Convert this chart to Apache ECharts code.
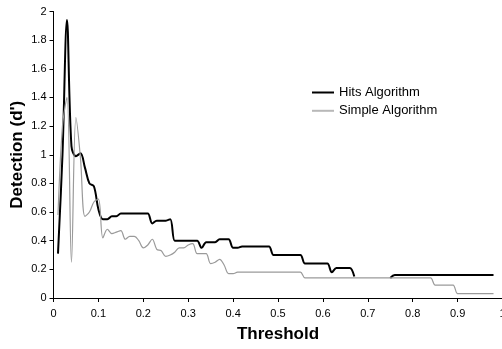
<!DOCTYPE html>
<html>
<head>
<meta charset="utf-8">
<script src="https://cdn.jsdelivr.net/npm/echarts@6/dist/echarts.min.js"></script>
<style>html,body{margin:0;padding:0;background:#fff;}#c{width:502px;height:349px;}</style>
</head>
<body>
<div id="c"></div>
<script>
var thresholds = [0.01,0.02,0.03,0.04,0.05,0.06,0.07,0.08,0.09,0.10,
0.11,0.12,0.13,0.14,0.15,0.16,0.17,0.18,0.19,0.20,
0.21,0.22,0.23,0.24,0.25,0.26,0.27,0.28,0.29,0.30,
0.31,0.32,0.33,0.34,0.35,0.36,0.37,0.38,0.39,0.40,
0.41,0.42,0.43,0.44,0.45,0.46,0.47,0.48,0.49,0.50,
0.51,0.52,0.53,0.54,0.55,0.56,0.57,0.58,0.59,0.60,
0.61,0.62,0.63,0.64,0.65,0.66,0.67,0.68,0.69,0.70,
0.71,0.72,0.73,0.74,0.75,0.76,0.77,0.78,0.79,0.80,
0.81,0.82,0.83,0.84,0.85,0.86,0.87,0.88,0.89,0.90,
0.91,0.92,0.93,0.94,0.95,0.96,0.97,0.98];

var hitsAlgorithm = [0.31,1.00,1.94,1.06,0.99,1.01,0.91,0.80,0.78,0.62,
0.55,0.55,0.57,0.57,0.59,0.59,0.59,0.59,0.59,0.59,
0.59,0.52,0.54,0.54,0.54,0.55,0.40,0.40,0.40,0.40,
0.40,0.40,0.35,0.39,0.39,0.39,0.41,0.41,0.41,0.35,
0.35,0.36,0.36,0.36,0.36,0.36,0.36,0.36,0.30,0.30,
0.30,0.30,0.30,0.30,0.30,0.24,0.24,0.24,0.24,0.24,
0.24,0.18,0.21,0.21,0.21,0.21,0.15,null,null,null,
null,null,null,null,0.14,0.16,0.16,0.16,0.16,0.16,
0.16,0.16,0.16,0.16,0.16,0.16,0.16,0.16,0.16,0.16,
0.16,0.16,0.16,0.16,0.16,0.16,0.16,0.16];

var simpleAlgorithm = [0.58,1.20,1.40,0.25,1.26,0.98,0.57,0.60,0.67,0.69,
0.42,0.48,0.45,0.46,0.47,0.41,0.43,0.43,0.40,0.35,
0.37,0.41,0.34,0.33,0.29,0.30,0.32,0.35,0.35,0.37,
0.38,0.31,0.31,0.31,0.24,0.25,0.27,0.23,0.17,0.17,
0.18,0.18,0.18,0.18,0.18,0.18,0.18,0.18,0.18,0.18,
0.18,0.18,0.18,0.18,0.18,0.14,0.14,0.14,0.14,0.14,
0.14,0.14,0.14,0.14,0.14,0.14,0.14,0.14,0.14,0.14,
0.14,0.14,0.14,0.14,0.14,0.14,0.14,0.14,0.14,0.14,
0.14,0.14,0.14,0.14,0.09,0.09,0.09,0.09,0.09,0.03,
0.03,0.03,0.03,0.03,0.03,0.03,0.03,0.03];

var xTicks = {min: 0, max: 1, interval: 0.1};
var yTicks = {min: 0, max: 2, interval: 0.2};

function pairs(vals) {
  return thresholds.map(function (t, i) { return [t, vals[i]]; });
}

var font = 'Liberation Sans, Arial, sans-serif';
var chart = echarts.init(document.getElementById('c'), null, {renderer: 'canvas'});
chart.setOption({
  animation: false,
  backgroundColor: '#ffffff',
  grid: {left: 53.5, right: -0.5, top: 11.5, bottom: 51, containLabel: false, outerBoundsMode: 'none'},
  legend: {
    orient: 'vertical', left: 307, top: 80.5,
    itemWidth: 22, itemHeight: 2, itemGap: 4.3,
    textStyle: {fontFamily: font, fontSize: 13, color: '#000', lineHeight: 14},
    data: [
      {name: 'Hits Algorithm', icon: 'rect', itemStyle: {color: '#000'}},
      {name: 'Simple Algorithm', icon: 'rect', itemStyle: {color: '#b8b8b8'}}
    ]
  },
  xAxis: {
    type: 'value', min: xTicks.min, max: xTicks.max, interval: xTicks.interval,
    name: 'Threshold', nameLocation: 'middle', nameGap: 28, nameMoveOverlap: false,
    nameTextStyle: {fontFamily: font, fontSize: 17, fontWeight: 'bold', color: '#000'},
    axisLine: {show: true, onZero: false, lineStyle: {color: '#000', width: 1}},
    axisTick: {show: true, inside: false, length: 4, lineStyle: {color: '#000'}},
    axisLabel: {fontFamily: font, fontSize: 11, color: '#000', margin: 10.5, showMaxLabel: true},
    splitLine: {show: false}
  },
  yAxis: {
    type: 'value', min: yTicks.min, max: yTicks.max, interval: yTicks.interval,
    name: "Detection (d')", nameLocation: 'middle', nameGap: 28, nameMoveOverlap: false,
    nameTextStyle: {fontFamily: font, fontSize: 17, fontWeight: 'bold', color: '#000'},
    axisLine: {show: true, lineStyle: {color: '#000', width: 1}},
    axisTick: {show: true, inside: false, length: 4, lineStyle: {color: '#000'}},
    axisLabel: {fontFamily: font, fontSize: 11, color: '#000', margin: 7},
    splitLine: {show: false}
  },
  series: [
    {
      name: 'Hits Algorithm', type: 'line', data: pairs(hitsAlgorithm),
      symbol: 'none', smooth: 0.35, connectNulls: false,
      lineStyle: {color: '#000', width: 2}, itemStyle: {color: '#000'}, z: 2
    },
    {
      name: 'Simple Algorithm', type: 'line', data: pairs(simpleAlgorithm),
      symbol: 'none', smooth: 0.35,
      lineStyle: {color: '#9a9a9a', width: 1.2}, itemStyle: {color: '#9a9a9a'}, z: 3
    }
  ]
});
</script>
</body>
</html>
